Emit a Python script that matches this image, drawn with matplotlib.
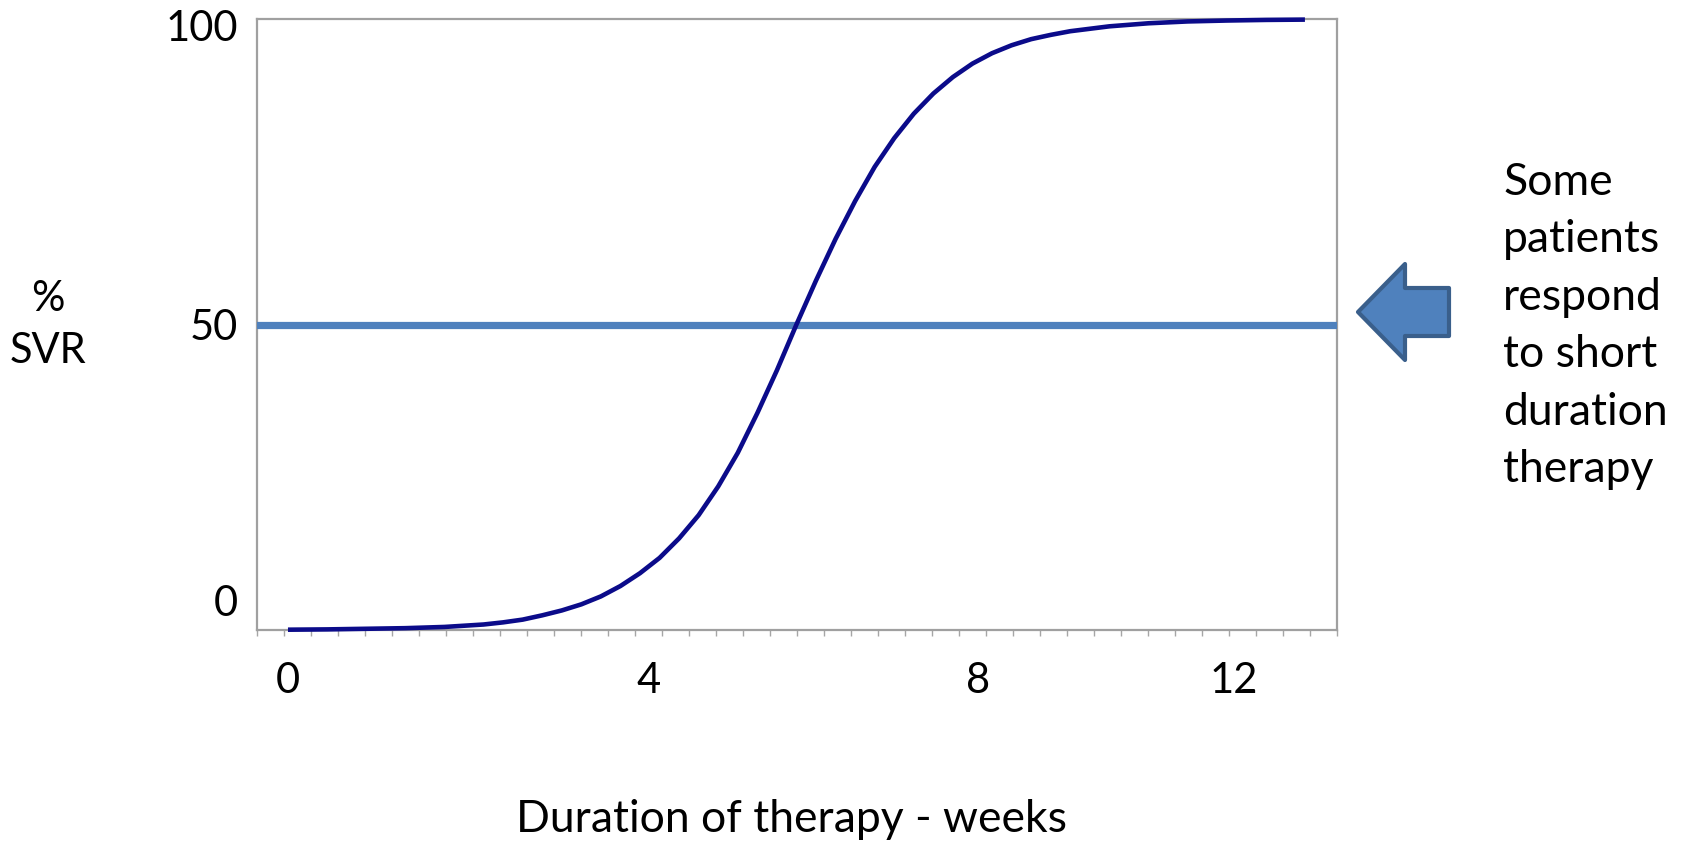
import numpy as np
import matplotlib.pyplot as plt
from matplotlib.patches import Polygon

plt.rcParams['font.family'] = ['Lato', 'DejaVu Sans']

# SVR response curve (% SVR against weeks of therapy)
weeks = [0, 0.5, 1, 1.5, 1.75, 2, 2.25, 2.5, 2.75, 3, 3.25, 3.5, 3.75, 4, 4.25,
         4.5, 4.75, 5, 5.25, 5.5, 5.75, 6, 6.25, 6.5, 6.75, 7, 7.25, 7.5, 7.75,
         8, 8.25, 8.5, 8.75, 9, 9.25, 9.5, 9.75, 10, 10.5, 11, 11.5, 12, 12.5, 13]
svr = [0.05, 0.1, 0.2, 0.3, 0.4, 0.5, 0.7, 0.9, 1.25, 1.7, 2.4, 3.2, 4.2, 5.5,
       7.2, 9.3, 11.8, 15.0, 18.8, 23.5, 29.0, 35.5, 42.5, 50.0, 57.2, 64.0,
       70.2, 75.8, 80.5, 84.5, 87.8, 90.5, 92.7, 94.4, 95.7, 96.7, 97.4, 98.0,
       98.8, 99.3, 99.6, 99.75, 99.85, 99.9]
threshold = 50

week_labels = ["0", "4", "8", "12"]
svr_labels = ["0", "50", "100"]

# hand-placed label positions on the axes
week_label_pos = [0, 4.61, 8.82, 12.09]
svr_label_pos = [4.9, 50, 99]

note = "Some\npatients\nrespond\nto short\nduration\ntherapy"

W, H = 1687, 849
fig = plt.figure(figsize=(W / 100, H / 100), dpi=100)
ax = fig.add_axes([257 / W, 1 - 630 / H, 1080 / W, 611 / H])

xmin, xmax = -0.396, 13.41
ax.set_xlim(xmin, xmax)
ax.set_ylim(0, 100)

ax.plot(weeks, svr, color="#0B0B8A", lw=3.3, zorder=5, clip_on=False,
        solid_joinstyle="round", solid_capstyle="butt")
ax.axhline(threshold, xmin=0, xmax=0.996, color="#4F81BD", lw=5.2, zorder=4)

for s in ax.spines.values():
    s.set_color("#A0A0A0")
    s.set_linewidth(1.6)

ax.set_xticks(week_label_pos, week_labels)
ax.set_xticks(np.linspace(xmin, xmax, 41), minor=True)
ax.set_yticks(svr_label_pos, svr_labels)
ax.tick_params(axis="x", which="major", length=0, pad=23, labelsize=30)
ax.tick_params(axis="x", which="minor", length=4, width=1, color="#A6A6A6",
               direction="out")
ax.tick_params(axis="y", length=0, pad=13.5, labelsize=30)

fig.text(792 / W, 1 - 820 / H, "Duration of therapy - weeks", fontsize=32,
         ha="center", va="center")
fig.text(48 / W, 1 - 325 / H, "%\nSVR", fontsize=30, ha="center", va="center",
         linespacing=1.47)
fig.text(1503 / W, 1 - 326 / H, note, fontsize=32, ha="left", va="center",
         linespacing=1.5)

# left-pointing block arrow beside the chart
arrow = [(1358, 312), (1405, 264), (1405, 288), (1449, 288), (1449, 336),
         (1405, 336), (1405, 360)]
fig.patches.append(Polygon([(x / W, 1 - y / H) for x, y in arrow], closed=True,
                           transform=fig.transFigure, facecolor="#4F81BD",
                           edgecolor="#3A5F8B", lw=3, joinstyle="round"))

fig.savefig("out.png", dpi=100)
